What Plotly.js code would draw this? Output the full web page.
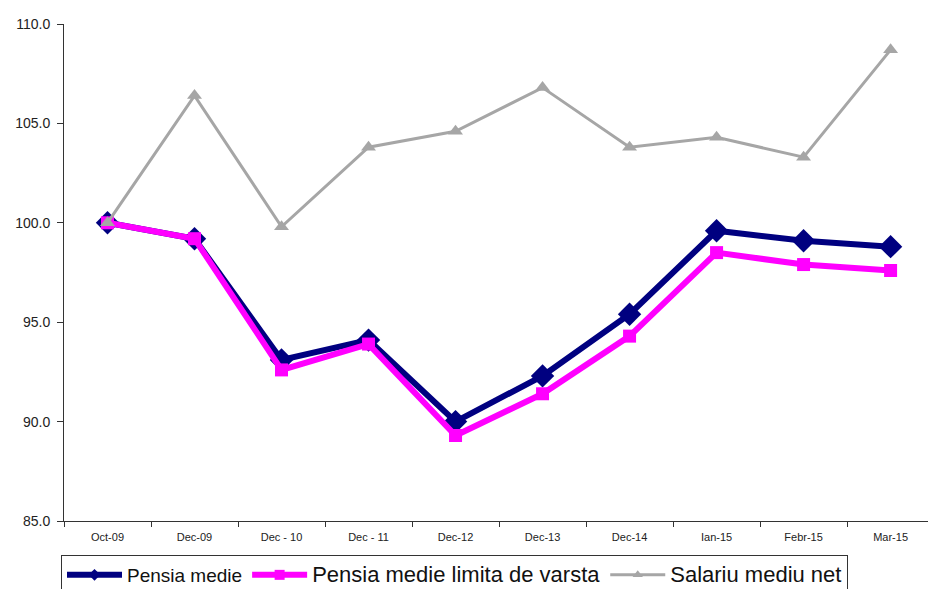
<!DOCTYPE html>
<html>
<head>
<meta charset="utf-8">
<script src="https://cdn.plot.ly/plotly-3.0.1.min.js"></script>
<style>html,body{margin:0;padding:0;background:#fff;}#chart{width:928px;height:589px;}</style>
</head>
<body>
<div id="chart"></div>
<script>
const categories = ["Oct-09","Dec-09","Dec - 10","Dec - 11","Dec-12","Dec-13","Dec-14","Ian-15","Febr-15","Mar-15"];
const pensiaMedie = [100.0, 99.2, 93.1, 94.1, 90.0, 92.3, 95.4, 99.6, 99.1, 98.8];
const pensiaLimita = [100.0, 99.2, 92.6, 93.9, 89.3, 91.4, 94.3, 98.5, 97.9, 97.6];
const salariu = [100.0, 106.4, 99.8, 103.8, 104.6, 106.8, 103.8, 104.3, 103.3, 108.7];
const yTicks = [85, 90, 95, 100, 105, 110];
const seriesNames = ["Pensia medie", "Pensia medie limita de varsta", "Salariu mediu net"];

const styles = [
  {line: {color: '#000080', width: 6}, marker: {symbol: 'diamond', size: 18, color: '#000080'}, legMarker: 9, fs: 19},
  {line: {color: '#FF00FF', width: 6}, marker: {symbol: 'square', size: 13, color: '#FF00FF'}, legMarker: 10, fs: 22},
  {line: {color: '#A6A6A6', width: 3}, marker: {symbol: 'triangle-up', size: 13, color: '#A6A6A6'}, legMarker: 9, fs: 22}
];
const seriesData = [pensiaMedie, pensiaLimita, salariu];

const traces = [];
seriesData.forEach((ys, i) => {
  traces.push({x: categories, y: ys, type: 'scatter', mode: 'lines+markers', showlegend: false,
    legendgroup: 'g' + i, line: styles[i].line, marker: styles[i].marker, hoverinfo: 'skip'});
});
seriesData.forEach((ys, i) => {
  traces.push({x: [null], y: [null], type: 'scatter', mode: 'lines+markers', showlegend: true,
    legendgroup: 'g' + i,
    name: '<span style="font-size:' + styles[i].fs + 'px">' + seriesNames[i] + '</span>',
    line: styles[i].line,
    marker: Object.assign({}, styles[i].marker, {size: styles[i].legMarker})});
});

const layout = {
  width: 928, height: 589,
  margin: {l: 64, r: 0, t: 24, b: 68},
  paper_bgcolor: '#fff', plot_bgcolor: '#fff',
  font: {family: 'Liberation Sans, Arial, sans-serif', color: '#222'},
  showlegend: true,
  legend: {orientation: 'h', xref: 'container', yref: 'container', x: 61/928, y: 1 - 555/589,
    xanchor: 'left', yanchor: 'top', bordercolor: '#333', borderwidth: 1, bgcolor: '#fff',
    font: {size: 19, color: '#111'}, itemwidth: 55, tracegroupgap: 0, traceorder: 'normal'},
  xaxis: {type: 'category', range: [-0.5, 9.43], showline: true, linecolor: '#333', linewidth: 1,
    showgrid: false, zeroline: false, ticks: 'outside', tickson: 'boundaries', ticklen: 5, tickcolor: '#333',
    tickfont: {size: 11, color: '#222'}, ticklabelstandoff: 6, fixedrange: true},
  yaxis: {range: [85, 110], tickvals: yTicks, ticktext: yTicks.map(v => v.toFixed(1)),
    showline: true, linecolor: '#333', linewidth: 1, showgrid: false, zeroline: false,
    ticks: 'outside', ticklen: 6, tickcolor: '#333', tickfont: {size: 14, color: '#222'},
    ticklabelstandoff: 4, fixedrange: true}
};

Plotly.newPlot('chart', traces, layout, {displayModeBar: false, staticPlot: true});
</script>
</body>
</html>
